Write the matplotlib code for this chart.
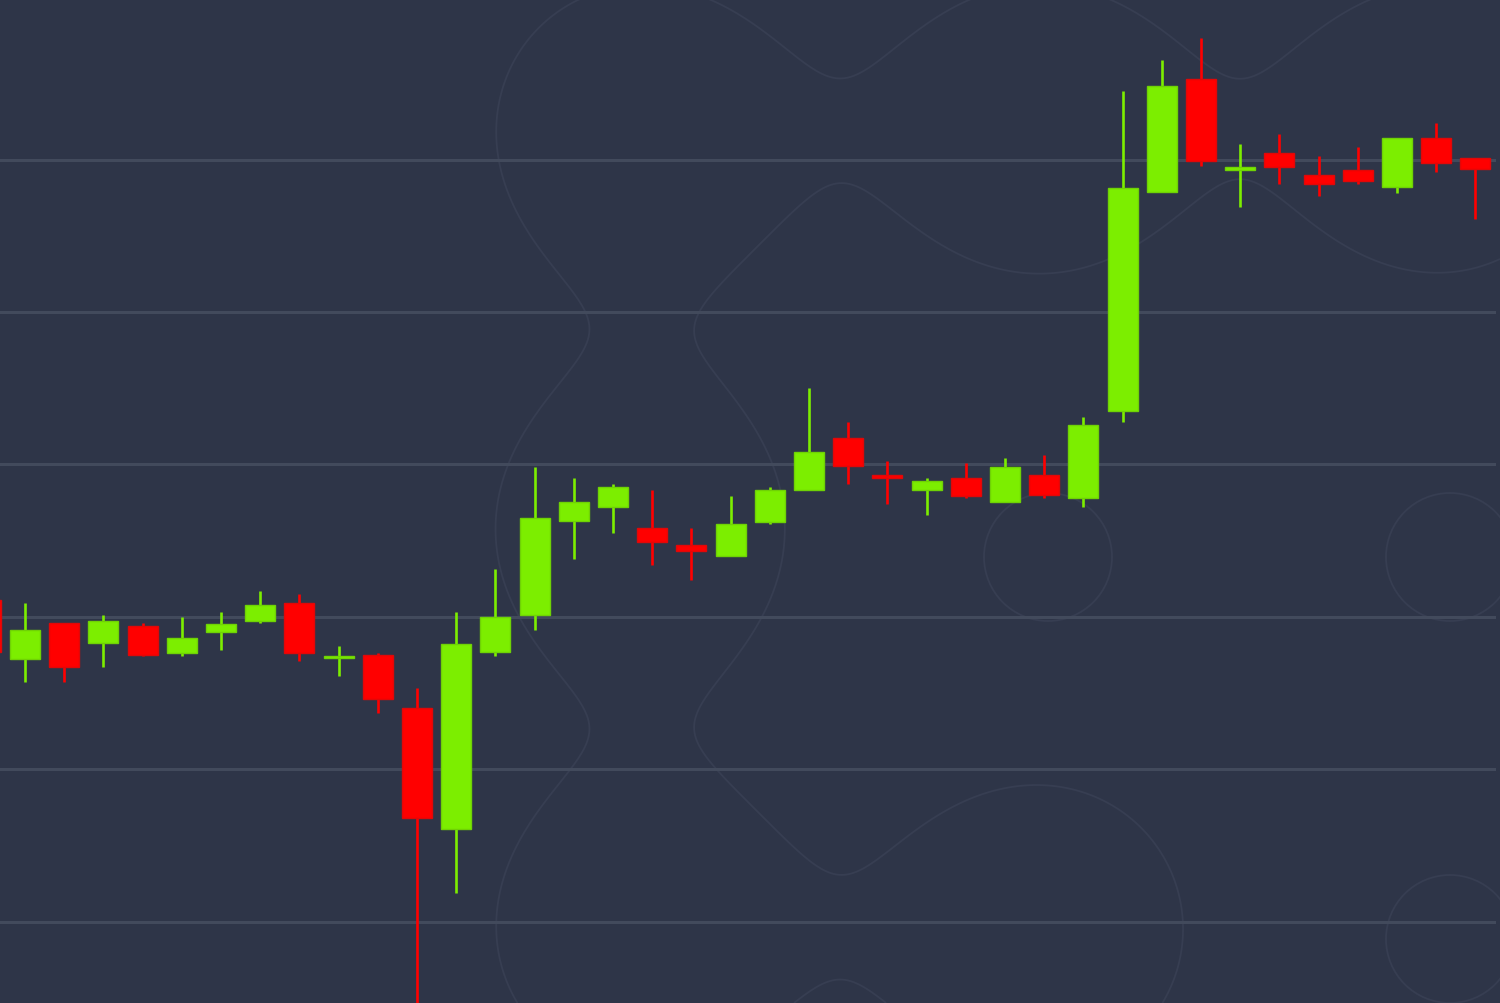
#!/usr/bin/env python3

import numpy as np
import matplotlib
matplotlib.use("Agg")
import matplotlib.pyplot as plt

# OHLC candles, first one is only partly visible at the left edge
opens = [9211, 9172, 9196, 9183, 9194, 9176, 9190, 9197, 9209, 9173, 9175,
         9140, 9061, 9177, 9201, 9263, 9272, 9258, 9247, 9240, 9262, 9283,
         9317, 9293, 9283, 9291, 9275, 9293, 9278, 9335, 9479, 9553, 9493,
         9504, 9490, 9493, 9482, 9514, 9501]
highs = [9215, 9209, 9196, 9201, 9196, 9200, 9203, 9217, 9215, 9181, 9176,
         9153, 9203, 9231, 9298, 9291, 9287, 9283, 9258, 9279, 9285, 9350,
         9328, 9302, 9291, 9301, 9304, 9306, 9331, 9545, 9565, 9580, 9510,
         9517, 9502, 9508, 9514, 9524, 9501]
lows = [9170, 9157, 9157, 9167, 9174, 9174, 9178, 9196, 9171, 9161, 9137,
        8935, 9019, 9174, 9191, 9238, 9255, 9234, 9224, 9240, 9261, 9283,
        9287, 9274, 9267, 9278, 9275, 9278, 9272, 9328, 9479, 9496, 9469,
        9484, 9476, 9484, 9478, 9492, 9461]
closes = [9177, 9191, 9167, 9197, 9175, 9186, 9195, 9208, 9176, 9174, 9146,
          9068, 9182, 9200, 9265, 9275, 9285, 9249, 9243, 9261, 9283, 9308,
          9299, 9291, 9289, 9279, 9298, 9280, 9326, 9481, 9548, 9499, 9495,
          9495, 9484, 9486, 9514, 9498, 9494]

grid_levels = [9000, 9100, 9200, 9300, 9400, 9500]

BG = "#2e3548"
GRID = "#424a5c"
DECO = "#373e52"
UP = "#7cee00"
UP_EDGE = "#6fd205"
DOWN = "#ff0000"
DOWN_EDGE = "#e00808"

W, H = 1500, 1004

fig = plt.figure(figsize=(15, 10.04), dpi=100, facecolor=BG)

# faint blobby pattern in the background (gaussian metaballs)
ax_bg = fig.add_axes([0, 0, 1, 1])
ax_bg.set_facecolor(BG)
gx, gy = np.meshgrid(np.arange(0, W + 1, 2.0), np.arange(0, H + 1, 2.0))

big = [(640, 130), (1040, 130), (1440, 130), (640, 530), (640, 930), (1040, 930)]
two_sig2 = 31850.0
field = np.zeros(gx.shape)
for cx, cy in big:
    field += np.exp(-((gx - cx) ** 2 + (gy - cy) ** 2) / two_sig2)
thr = np.exp(-143.0 ** 2 / two_sig2)
ax_bg.contour(gx, gy, field, levels=[thr], colors=DECO, linewidths=1.3)
for cx, cy in [(1048, 558), (1450, 558), (1450, 940)]:
    ax_bg.add_patch(plt.Circle((cx, cy), 64, fill=False, color=DECO, lw=1.3))
ax_bg.set_xlim(0, W)
ax_bg.set_ylim(H, 0)
ax_bg.axis("off")

# candles
ax = fig.add_axes([0, 0, 1, 1])
ax.patch.set_alpha(0)

xs = np.arange(len(opens)) - 1
step = 39.2  # pixels between candles
x_left = -25 / step
x_right = (W - 25) / step
y_bottom = 9000 - 81.5 * 100 / 152.4
y_top = 9000 + 922.5 * 100 / 152.4

for lvl in grid_levels:
    ax.axhline(lvl, xmin=0, xmax=1494 / W, color=GRID, linewidth=2.2, zorder=1)

for x, o, h, l, c in zip(xs, opens, highs, lows, closes):
    up = c >= o
    col = UP if up else DOWN
    edge = UP_EDGE if up else DOWN_EDGE
    ax.vlines(x, l, h, color=col, linewidth=1.9, zorder=2)
    ax.bar(x, abs(c - o), bottom=min(o, c), width=0.765,
           color=col, edgecolor=edge, linewidth=1.0, zorder=3)

ax.set_xlim(x_left, x_right)
ax.set_ylim(y_bottom, y_top)
ax.axis("off")

plt.savefig("out.png", dpi=100, facecolor=BG)
plt.close()
